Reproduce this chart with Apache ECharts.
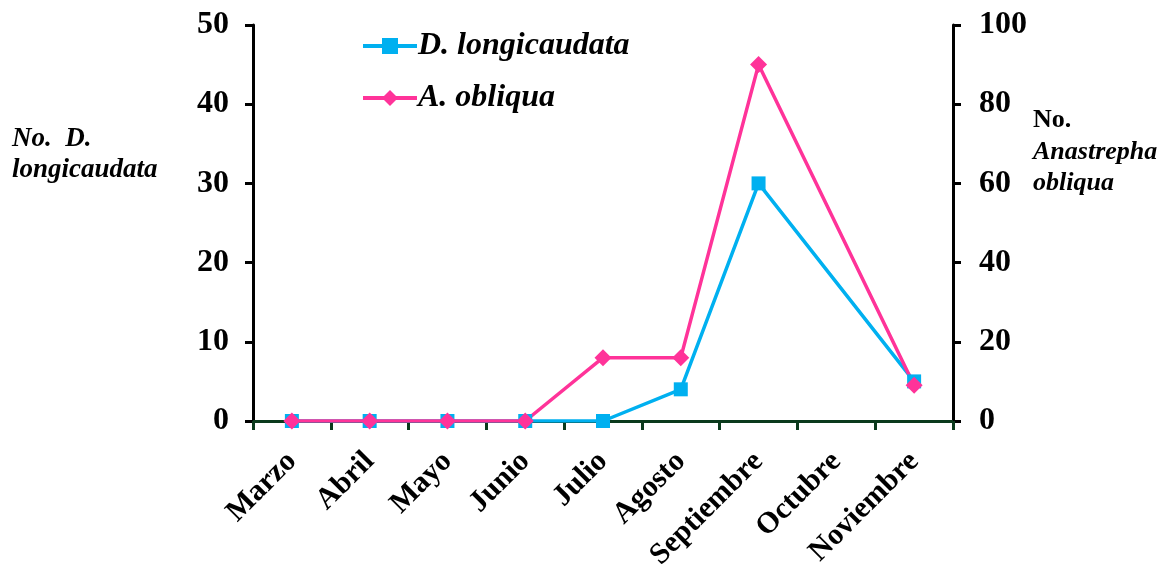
<!DOCTYPE html>
<html><head><meta charset="utf-8">
<script src="https://cdn.jsdelivr.net/npm/echarts@6/dist/echarts.min.js"></script>
<style>html,body{margin:0;padding:0;background:#fff}#c{width:1162px;height:571px}</style>
</head><body><div id="c"></div>
<script>
const months = ['Marzo','Abril','Mayo','Junio','Julio','Agosto','Septiembre','Octubre','Noviembre'];
const dLongicaudata = [0,0,0,0,0,4,30,null,5];
const aObliqua = [0,0,0,0,16,16,90,null,9];
const leftTicks = {min:0, max:50, interval:10};
const rightTicks = {min:0, max:100, interval:20};

const font = 'Liberation Serif';
const chart = echarts.init(document.getElementById('c'));
chart.setOption({
  animation:false,
  grid:{left:253, right:209, top:25, bottom:150, containLabel:false, outerBoundsMode:'none'},
  legend:{
    left:356, top:25, orient:'vertical', itemGap:20, itemWidth:54, itemHeight:20,
    lineStyle:{width:4},
    textStyle:{fontFamily:font, fontSize:32, fontWeight:700, fontStyle:'italic', color:'#000', padding:[0,0,0,-4]},
    data:['D. longicaudata','A. obliqua']
  },
  xAxis:{
    type:'category', data:months, boundaryGap:true,
    axisLine:{show:true, lineStyle:{color:'#0b3a1c', width:3}},
    axisTick:{show:true, inside:false, length:9, lineStyle:{color:'#0b3a1c', width:3}},
    axisLabel:{rotate:45, margin:36, interval:0, fontFamily:font, fontSize:30, fontWeight:700, color:'#000'}
  },
  yAxis:[
    {type:'value', min:leftTicks.min, max:leftTicks.max, interval:leftTicks.interval, position:'left',
     splitLine:{show:false},
     axisLine:{show:true, lineStyle:{color:'#000', width:3}},
     axisTick:{show:true, length:8, lineStyle:{color:'#000', width:3}},
     axisLabel:{margin:24, fontFamily:font, fontSize:32, fontWeight:700, color:'#000'}},
    {type:'value', min:rightTicks.min, max:rightTicks.max, interval:rightTicks.interval, position:'right',
     splitLine:{show:false},
     axisLine:{show:true, lineStyle:{color:'#000', width:3}},
     axisTick:{show:true, length:8, lineStyle:{color:'#000', width:3}},
     axisLabel:{margin:26, fontFamily:font, fontSize:32, fontWeight:700, color:'#000'}}
  ],
  graphic:[
    {type:'text', left:12, top:124, style:{text:'No.  D.\nlongicaudata', font:'italic bold 27px "Liberation Serif"', fill:'#000', lineHeight:31}},
    {type:'text', left:1033, top:107, style:{text:'No.', font:'bold 26px "Liberation Serif"', fill:'#000'}},
    {type:'text', left:1033, top:137, style:{text:'Anastrepha\nobliqua', font:'italic bold 26px "Liberation Serif"', fill:'#000', lineHeight:31}}
  ],
  series:[
    {name:'D. longicaudata', type:'line', yAxisIndex:0, data:dLongicaudata, connectNulls:true,
     symbol:'rect', symbolSize:14, itemStyle:{color:'#00B0F0'}, lineStyle:{color:'#00B0F0', width:3.5}},
    {name:'A. obliqua', type:'line', yAxisIndex:1, data:aObliqua, connectNulls:true,
     symbol:'diamond', symbolSize:17, itemStyle:{color:'#FF3399'}, lineStyle:{color:'#FF3399', width:3.5}}
  ]
});
</script></body></html>
